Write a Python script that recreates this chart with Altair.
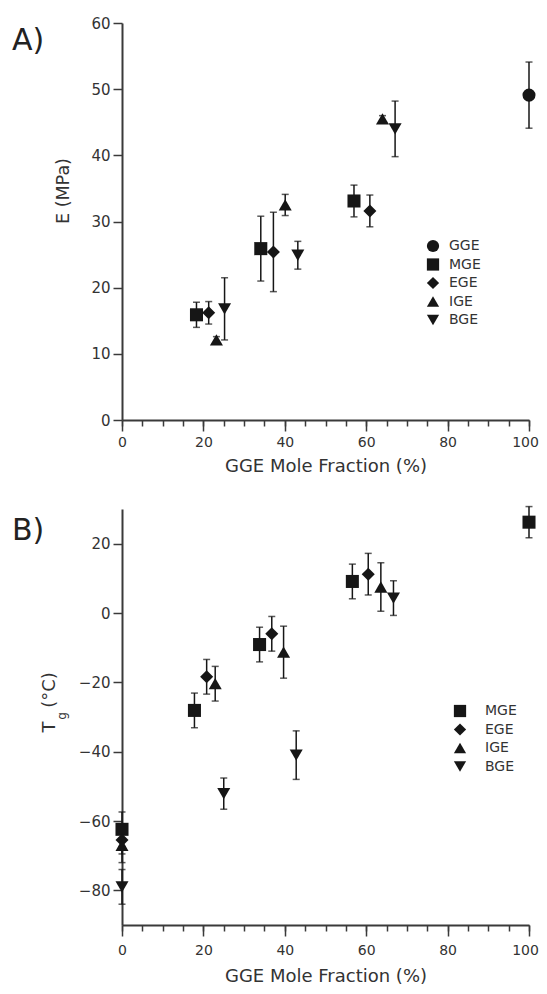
import altair as alt
import pandas as pd

# ---------------- data ----------------
# Panel A: Young's modulus E (MPa)
A_SERIES = ["MGE", "EGE", "IGE", "BGE", "MGE", "EGE", "IGE", "BGE",
            "MGE", "EGE", "IGE", "BGE", "GGE"]
A_X = [18.3, 21.3, 23.2, 25.2, 34.1, 37.2, 40.1, 43.2, 57.0, 60.9, 64.0, 67.1, 100.0]
A_Y = [15.9, 16.2, 12.1, 16.8, 25.9, 25.4, 32.5, 24.9, 33.1, 31.6, 45.5, 44.0, 49.1]
A_ERR = [1.9, 1.7, 0.5, 4.7, 4.9, 6.0, 1.6, 2.1, 2.4, 2.4, 0.5, 4.2, 5.0]
A_LEGEND = ["GGE", "MGE", "EGE", "IGE", "BGE"]
A_SHAPES = ["circle", "square", "diamond", "triangle-up", "triangle-down"]
A_YTICKS = [0, 10, 20, 30, 40, 50, 60]

# Panel B: glass transition temperature Tg (deg C)
B_SERIES = ["MGE", "EGE", "IGE", "BGE", "MGE", "EGE", "IGE", "BGE",
            "MGE", "EGE", "IGE", "BGE", "MGE", "EGE", "IGE", "BGE", "MGE"]
B_X = [0, 0, 0, 0, 17.8, 20.8, 22.9, 25.0, 33.8, 36.8, 39.7, 42.8,
       56.6, 60.5, 63.6, 66.7, 100.0]
B_Y = [-62.4, -65.5, -67.0, -79.0, -28.1, -18.4, -20.4, -52.1,
       -9.1, -6.0, -11.3, -41.0, 9.1, 11.2, 7.5, 4.3, 26.2]
B_ERR = [5.0, 4.0, 5.0, 5.0, 5.0, 5.0, 5.0, 4.5, 5.0, 5.0, 7.5, 7.0,
         5.0, 6.0, 7.0, 5.0, 4.5]
B_LEGEND = ["MGE", "EGE", "IGE", "BGE"]
B_SHAPES = ["square", "diamond", "triangle-up", "triangle-down"]
B_YTICKS = [-80, -60, -40, -20, 0, 20]

X_MAJOR = [0, 20, 40, 60, 80, 100]
X_MINOR = [0, 5, 10, 15, 20, 25, 30, 35, 40, 45, 50, 55, 60, 65, 70, 75, 80, 85, 90, 95, 100]

FONT = "DejaVu Sans"
INK = "#161616"
AXC = "#3a3a3a"
TXT = "#333333"


def frame(series, xs, ys, errs):
    df = pd.DataFrame({"series": series, "x": xs, "y": ys, "err": errs})
    df["lo"] = df["y"] - df["err"]
    df["hi"] = df["y"] + df["err"]
    return df


def text_layer(txt, x, y, size, angle=0, align="center", baseline="middle", color=TXT):
    kw = dict(font=FONT, fontSize=size, color=color, align=align, baseline=baseline)
    if angle:
        kw["angle"] = angle
    return alt.Chart(pd.DataFrame({"t": [txt]})).mark_text(**kw).encode(
        text="t:N", x=alt.value(x), y=alt.value(y))


def panel(df, ydom, yticks, legdom, legrng, w, h, legx, legy, loff, lpad, tpad, extra):
    xs = alt.Scale(domain=[0, 100], nice=False, zero=False)
    ys = alt.Scale(domain=ydom, nice=False, zero=False)
    base = alt.Chart(df)
    x_major = alt.X("x:Q", scale=xs, axis=alt.Axis(
        values=X_MAJOR, tickSize=11, tickWidth=1.5, tickColor=AXC, domainColor=AXC,
        domainWidth=2, labelFont=FONT, labelFontSize=14, labelColor=TXT, labelPadding=lpad,
        labelFlush=False,
        labelOffset={"condition": {"test": "datum.value == 100", "value": -4}, "value": 0},
        title="GGE Mole Fraction (%)", titleFont=FONT, titleFontSize=18,
        titleFontWeight="normal", titleColor=TXT, titlePadding=tpad, grid=False,
        orient="bottom"))
    x_minor = alt.X("x:Q", scale=xs, axis=alt.Axis(
        values=X_MINOR, tickSize=6, tickWidth=1.5, tickColor=AXC, domain=False,
        labels=False, title=None, grid=False, orient="bottom"))
    x_none = alt.X("x:Q", scale=xs, axis=None)
    y_axis = alt.Y("lo:Q", scale=ys, axis=alt.Axis(
        values=yticks, tickSize=9, tickWidth=1.5, tickColor=AXC, domainColor=AXC,
        domainWidth=2, labelFont=FONT, labelFontSize=15, labelColor=TXT, labelPadding=3,
        labelFlush=False, title=None, grid=False, orient="left"))
    rules = base.mark_rule(color=INK, strokeWidth=1.5).encode(
        x=x_major, y=y_axis, y2="hi:Q")
    caps_hi = base.mark_tick(orient="horizontal", size=7, thickness=1.5, color=INK).encode(
        x=x_minor, y=alt.Y("hi:Q", scale=ys, axis=None))
    caps_lo = base.mark_tick(orient="horizontal", size=7, thickness=1.5, color=INK).encode(
        x=x_none, y=alt.Y("lo:Q", scale=ys, axis=None))
    pts = base.mark_point(filled=True, opacity=1, color=INK, size=170).encode(
        x=x_none, y=alt.Y("y:Q", scale=ys, axis=None),
        shape=alt.Shape("series:N", scale=alt.Scale(domain=legdom, range=legrng),
                        legend=alt.Legend(
                            orient="none", legendX=legx, legendY=legy, title=None,
                            labelFont=FONT, labelFontSize=14, labelColor=TXT,
                            symbolFillColor=INK, symbolStrokeColor=INK,
                            symbolStrokeWidth=0, symbolSize=150, labelOffset=loff,
                            rowPadding=4.5, padding=0)))
    return alt.layer(rules, caps_hi, caps_lo, pts, *extra).resolve_axis(
        x="independent", y="independent").properties(width=w, height=h)


dfa = frame(A_SERIES, A_X, A_Y, A_ERR)
dfb = frame(B_SERIES, B_X, B_Y, B_ERR)

top = panel(dfa, [0, 60], A_YTICKS, A_LEGEND, A_SHAPES, 407, 397, 304, 216, 9, 4, 8, [
    text_layer("A)", -110, 27, 30, align="left", baseline="alphabetic", color="#222"),
    text_layer("E (MPa)", -58, 168, 17.5, angle=270),
])

bottom = panel(dfb, [-90, 30], B_YTICKS, B_LEGEND, B_SHAPES, 407, 416, 331, 195, 18, 7, 10, [
    text_layer("B)", -110, 31, 30, align="left", baseline="alphabetic", color="#222"),
    text_layer("(°C)", -72, 181, 18, angle=270),
    text_layer("T", -72, 218, 18, angle=270),
    text_layer("g", -60, 207, 12, angle=270),
])

chart = alt.vconcat(top, bottom, spacing=30).resolve_scale(
    shape="independent").configure_view(stroke=None).properties(
    padding={"left": 4, "top": 8, "right": 0, "bottom": 0})

chart.save("out.html", embed_options={"renderer": "svg", "actions": False})
